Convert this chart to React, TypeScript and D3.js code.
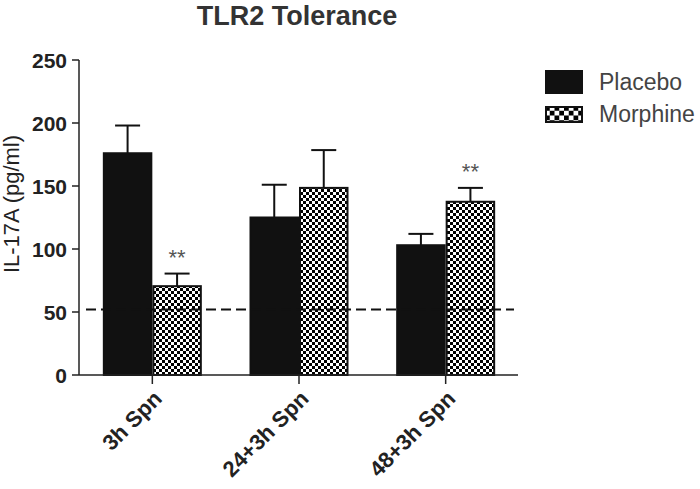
import React from "react";
import * as d3 from "d3";

const categories = ["3h Spn", "24+3h Spn", "48+3h Spn"];
const seriesNames = ["Placebo", "Morphine"];
const placeboValues = [176, 125, 103];
const placeboErrors = [22, 26, 9];
const morphineValues = [70.5, 148.5, 137.5];
const morphineErrors = [10, 30, 11];
const morphineSignificant = [true, false, true];
const yTicks = [0, 50, 100, 150, 200, 250];
const baselineValue = 52;
const title = "TLR2 Tolerance";
const yLabel = "IL-17A (pg/ml)";

const W = 700;
const H = 489;
const FONT = "'Liberation Sans', Arial, Helvetica, sans-serif";

export default function App() {
  const y = d3.scaleLinear().domain([0, 250]).range([375, 60]);
  const x = d3.scalePoint<string>().domain(categories).range([79, 519]).padding(0.5);
  const barW = 49.5;
  const x0 = 79;
  const xEnd = 518;

  const series = [
    { name: seriesNames[0], values: placeboValues, errors: placeboErrors, fill: "#111" },
    { name: seriesNames[1], values: morphineValues, errors: morphineErrors, fill: "url(#checker)" },
  ];

  return (
    <svg width={W} height={H} style={{ position: "absolute", left: 0, top: 0, background: "#fff" }}>
      <defs>
        <pattern id="checker" patternUnits="userSpaceOnUse" width="6" height="6">
          <rect width="6" height="6" fill="#fff" />
          <rect x="0" y="0" width="3" height="3" fill="#000" />
          <rect x="3" y="3" width="3" height="3" fill="#000" />
        </pattern>
        <pattern id="checkerBig" patternUnits="userSpaceOnUse" width="9.5" height="9.5" x="545" y="106">
          <rect width="9.5" height="9.5" fill="#fff" />
          <rect x="0" y="0" width="4.75" height="4.75" fill="#000" />
          <rect x="4.75" y="4.75" width="4.75" height="4.75" fill="#000" />
        </pattern>
      </defs>
      <rect width={W} height={H} fill="#fff" />

      <text x={297} y={25} textAnchor="middle" fontFamily={FONT} fontWeight="bold" fontSize={27} fill="#333">
        {title}
      </text>

      {/* bars */}
      {categories.map((c, i) => {
        const cx = x(c) as number;
        return series.map((s, si) => {
          const bx = cx - barW + si * barW;
          const top = y(s.values[i]);
          const errTop = y(s.values[i] + s.errors[i]);
          const mid = bx + barW / 2;
          return (
            <g key={c + s.name}>
              <line x1={mid} x2={mid} y1={top} y2={errTop} stroke="#111" strokeWidth={2} />
              <line x1={mid - 12.5} x2={mid + 12.5} y1={errTop} y2={errTop} stroke="#111" strokeWidth={2} />
              <rect x={bx + 1} y={top} width={barW - 2} height={y(0) - top} fill={s.fill} stroke="#111" strokeWidth={2} />
            </g>
          );
        });
      })}

      {/* significance */}
      {categories.map((c, i) => {
        if (!morphineSignificant[i]) return null;
        const cx = (x(c) as number) + barW / 2;
        const errTop = y(morphineValues[i] + morphineErrors[i]);
        return (
          <text key={"sig" + c} x={cx} y={errTop - 9} textAnchor="middle" fontFamily={FONT} fontSize={22} fill="#555">
            **
          </text>
        );
      })}

      {/* dashed baseline */}
      <line x1={86} x2={514} y1={y(baselineValue)} y2={y(baselineValue)} stroke="#111" strokeWidth={2} strokeDasharray="10,5" />

      {/* y axis */}
      <line x1={x0} x2={x0} y1={y(250)} y2={y(0)} stroke="#222" strokeWidth={1.5} />
      {yTicks.map((t) => (
        <g key={"yt" + t}>
          <line x1={72} x2={x0} y1={y(t)} y2={y(t)} stroke="#222" strokeWidth={1.5} />
          <text x={67} y={y(t)} dy="0.36em" textAnchor="end" fontFamily={FONT} fontWeight="bold" fontSize={21} fill="#222">
            {t}
          </text>
        </g>
      ))}
      <text
        transform={`translate(19, 204) rotate(-90)`}
        textAnchor="middle"
        fontFamily={FONT}
        fontSize={22}
        fill="#222"
      >
        {yLabel}
      </text>

      {/* x axis */}
      <line x1={x0} x2={xEnd} y1={y(0)} y2={y(0)} stroke="#222" strokeWidth={1.5} />
      {categories.map((c) => {
        const cx = x(c) as number;
        return (
          <g key={"xt" + c}>
            <line x1={cx} x2={cx} y1={y(0)} y2={y(0) + 9} stroke="#222" strokeWidth={1.5} />
            <text
              transform={`translate(${cx + 11}, 400) rotate(-45)`}
              textAnchor="end"
              fontFamily={FONT}
              fontWeight="bold"
              fontSize={22}
              fill="#222"
            >
              {c}
            </text>
          </g>
        );
      })}

      {/* legend */}
      <rect x={546} y={71} width={36} height={22} fill="#111" stroke="#111" strokeWidth={2} />
      <text x={599} y={90} fontFamily={FONT} fontSize={23} fill="#444">
        {seriesNames[0]}
      </text>
      <rect x={546} y={107} width={36} height={15} fill="url(#checkerBig)" stroke="#111" strokeWidth={2} />
      <text x={599} y={122} fontFamily={FONT} fontSize={23} fill="#444">
        {seriesNames[1]}
      </text>
    </svg>
  );
}
